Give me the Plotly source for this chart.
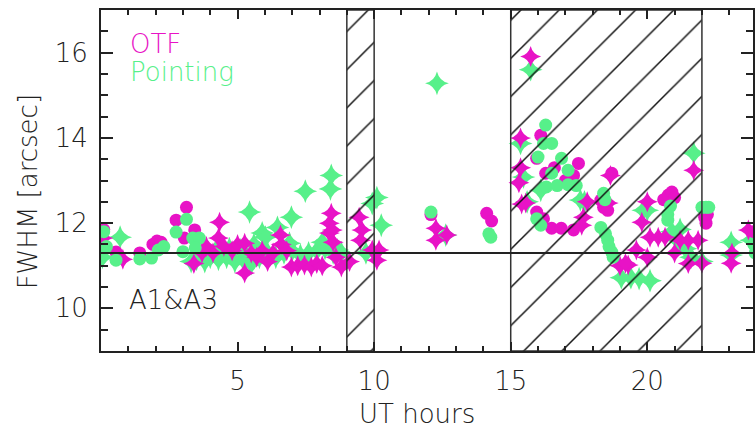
import plotly.graph_objects as go

MAG = "#E813C6"
GRN = "#57F08A"

# OTF (magenta) circles
otf_c_h = [0.1, 0.55, 1.42, 1.9, 2.05, 2.2, 2.75, 3.13, 3.43, 3.05, 12.08, 14.12, 14.3,
           15.95, 16.28, 17.3, 17.48, 17.0, 16.6, 16.1, 15.95, 16.2, 16.5, 16.85, 17.3,
           18.3, 18.4, 18.7, 18.55, 20.6, 20.77, 20.9, 21.0, 22.1, 22.15, 22.2, 23.9]
otf_c_v = [11.85, 11.32, 11.3, 11.5, 11.58, 11.55, 12.07, 12.37, 11.84, 11.65, 12.2, 12.23, 12.05,
           13.52, 13.17, 13.12, 13.4, 13.0, 13.3, 14.06, 12.26, 12.1, 11.88, 11.88, 11.84,
           12.54, 12.37, 13.17, 12.3, 12.55, 12.66, 12.73, 12.6, 12.14, 12.0, 12.2, 11.8]

# OTF (magenta) stars
otf_s_h = [0.07, 0.8, 3.4, 3.7, 3.86, 4.1, 4.34, 4.3, 4.5, 4.8, 5.0, 5.26, 5.26, 5.5, 5.7,
           5.9, 6.1, 6.3, 6.57, 6.6, 6.8, 6.97, 7.2, 7.45, 7.7, 7.9, 8.1, 8.36, 8.36, 8.43,
           8.5, 8.6, 8.8, 8.47, 9.1, 9.45, 9.55, 9.5, 9.93, 10.18, 10.1, 12.26, 12.26, 12.66,
           15.73, 15.36, 15.36, 15.3, 15.55, 15.4, 17.66, 17.6, 17.8, 18.65, 18.57, 19.0,
           19.3, 19.6, 19.8, 20.0, 20.1, 20.0, 20.4, 20.65, 21.0, 21.2, 21.5, 21.7, 21.86,
           21.5, 22.0, 23.07, 23.1, 23.7, 19.2]
otf_s_v = [11.65, 11.15, 11.05, 11.3, 11.45, 11.3, 12.02, 11.65, 11.45, 11.35, 11.5, 11.53, 10.83, 11.3, 11.2,
           11.35, 11.1, 11.3, 11.72, 11.5, 11.35, 10.97, 11.0, 11.02, 10.97, 11.05, 11.0, 12.0, 11.77, 12.23,
           11.55, 11.2, 10.97, 11.84, 11.1, 12.14, 11.84, 11.6, 11.37, 11.37, 11.13, 11.88, 11.6, 11.72,
           15.91, 14.0, 13.3, 12.95, 12.47, 12.45, 12.14, 11.95, 12.5, 13.12, 12.47, 11.0,
           11.02, 11.37, 12.02, 12.5, 11.67, 11.2, 11.67, 11.67, 11.3, 11.6, 11.05, 13.24, 11.6,
           11.6, 11.06, 11.06, 11.3, 11.84, 11.06]

# Pointing (green) circles
pnt_c_h = [0.1, 0.2, 0.55, 1.42, 1.85, 2.1, 2.3, 2.75, 3.13, 3.0, 3.36, 3.6, 3.45, 12.08,
           14.27, 14.2, 16.28, 16.2, 16.5, 16.0, 16.86, 17.1, 16.5, 16.3, 16.7, 17.1, 17.4,
           16.1, 15.95, 18.4, 18.45, 18.3, 18.47, 18.55, 18.6, 18.7, 18.75, 20.75, 20.75,
           20.85, 22.0, 22.15, 22.25, 23.9, 23.95]
pnt_c_v = [11.8, 11.45, 11.13, 11.16, 11.18, 11.37, 11.45, 11.79, 12.09, 11.33, 11.65, 11.65, 11.42, 12.26,
           11.67, 11.75, 14.3, 13.87, 13.87, 13.55, 13.52, 13.24, 13.17, 12.85, 12.88, 12.9, 12.88,
           11.95, 12.1, 12.7, 12.55, 11.9, 11.75, 11.6, 11.45, 11.32, 11.2, 12.2, 12.07,
           12.4, 12.37, 12.37, 12.37, 11.5, 11.3]

# Pointing (green) stars
pnt_s_h = [0.05, 0.7, 3.3, 3.5, 3.8, 4.0, 4.3, 4.6, 4.9, 5.2, 5.5, 5.8, 6.1, 6.4, 6.7, 7.0,
           7.3, 7.6, 7.9, 8.2, 8.5, 8.8, 4.2, 4.7, 5.1, 5.6, 5.9, 6.02, 6.46, 6.97, 7.48,
           8.4, 8.43, 5.44, 6.9, 8.1, 8.65, 9.7, 9.93, 10.1, 10.26, 12.62, 12.3, 15.73,
           15.36, 15.47, 16.1, 15.6, 17.55, 17.7, 19.05, 19.4, 19.7, 20.1, 19.85, 20.0,
           21.1, 21.4, 21.6, 21.7, 22.0, 23.07, 23.07, 23.8, 20.9, 21.2]
pnt_s_v = [11.2, 11.67, 11.1, 11.15, 11.1, 11.2, 11.15, 11.2, 11.1, 11.15, 11.05, 11.2, 11.3, 11.2, 11.3, 11.35,
           11.25, 11.3, 11.35, 11.4, 11.3, 11.3, 11.35, 11.4, 11.37, 11.5, 11.77, 11.67, 11.9, 12.14, 12.75,
           12.8, 13.12, 12.26, 11.53, 11.55, 11.37, 11.3, 12.46, 12.6, 11.95, 11.72, 15.28, 15.6,
           13.87, 13.08, 12.77, 12.5, 12.54, 12.5, 10.72, 10.72, 10.7, 10.65, 12.3, 12.3,
           11.6, 11.4, 11.2, 13.64, 11.1, 11.55, 11.25, 11.6, 11.8, 11.85]

# hatched time windows (UT hours) and reference level
hatch_windows = [(9, 10), (15, 22)]
ref_level = 11.3

x_range = [0, 23.87]
y_range = [9, 17]

fig = go.Figure()
fig.add_trace(go.Scatter(x=pnt_s_h, y=pnt_s_v, mode="markers",
                         marker=dict(symbol="star-diamond", size=17, color=GRN, line=dict(width=0))))
fig.add_trace(go.Scatter(x=otf_s_h, y=otf_s_v, mode="markers",
                         marker=dict(symbol="star-diamond", size=15, color=MAG, line=dict(width=0))))
fig.add_trace(go.Scatter(x=otf_c_h, y=otf_c_v, mode="markers",
                         marker=dict(symbol="circle", size=13, color=MAG, line=dict(width=0))))
fig.add_trace(go.Scatter(x=pnt_c_h, y=pnt_c_v, mode="markers",
                         marker=dict(symbol="circle", size=13, color=GRN, line=dict(width=0))))

for a, b in hatch_windows:
    fig.add_trace(go.Scatter(
        x=[a, b, b, a, a], y=[y_range[0], y_range[0], y_range[1], y_range[1], y_range[0]],
        mode="lines", fill="toself", fillcolor="rgba(0,0,0,0)",
        line=dict(color="#333333", width=1.5),
        fillpattern=dict(shape="/", size=27, solidity=0.055, fgcolor="#111111",
                         fgopacity=1, bgcolor="rgba(0,0,0,0)"),
        hoverinfo="skip"))

fig.add_shape(type="line", xref="paper", yref="y", x0=0, x1=1, y0=ref_level, y1=ref_level,
              line=dict(color="#222222", width=2))

FONT = dict(family="DejaVu Sans", size=26, color="#222222", weight=200)

fig.add_annotation(x=0.99, y=16.21, xref="x", yref="y", text="OTF", showarrow=False,
                   xanchor="left", yanchor="middle", font=dict(FONT, color=MAG))
fig.add_annotation(x=0.99, y=15.54, xref="x", yref="y", text="Pointing", showarrow=False,
                   xanchor="left", yanchor="middle", font=dict(FONT, color=GRN))
fig.add_annotation(x=0.95, y=10.2, xref="x", yref="y", text="A1&amp;A3", showarrow=False,
                   xanchor="left", yanchor="middle", font=FONT)
fig.add_annotation(x=0.485, y=-0.184, xref="paper", yref="paper", text="UT hours", showarrow=False,
                   xanchor="center", yanchor="middle", font=FONT)
fig.add_annotation(x=-0.1116, y=0.466, xref="paper", yref="paper", text="FWHM [arcsec]",
                   showarrow=False, textangle=-90, xanchor="center", yanchor="middle", font=FONT)

fig.update_layout(
    width=755, height=429, margin=dict(l=101, r=0, t=10, b=78),
    paper_bgcolor="white", plot_bgcolor="white", showlegend=False,
    font=FONT,
)
fig.update_xaxes(range=x_range, tickmode="array", tickvals=[5, 10, 15, 20],
                 ticks="inside", ticklen=9, tickwidth=1.5, tickcolor="#222222",
                 minor=dict(tickmode="linear", tick0=0, dtick=1, ticks="inside", ticklen=5,
                            tickwidth=1.5, tickcolor="#222222"),
                 showline=True, linecolor="#222222", linewidth=2, mirror="ticks",
                 showgrid=False, zeroline=False, ticklabelstandoff=6,
                 tickfont=FONT)
fig.update_yaxes(range=y_range, tickmode="array", tickvals=[10, 12, 14, 16],
                 ticks="inside", ticklen=12, tickwidth=1.5, tickcolor="#222222",
                 minor=dict(tickmode="linear", tick0=9, dtick=0.5, ticks="inside", ticklen=7,
                            tickwidth=1.5, tickcolor="#222222"),
                 showline=True, linecolor="#222222", linewidth=2, mirror="ticks",
                 showgrid=False, zeroline=False, ticklabelstandoff=6,
                 tickfont=FONT)

fig.write_html("out.html")
